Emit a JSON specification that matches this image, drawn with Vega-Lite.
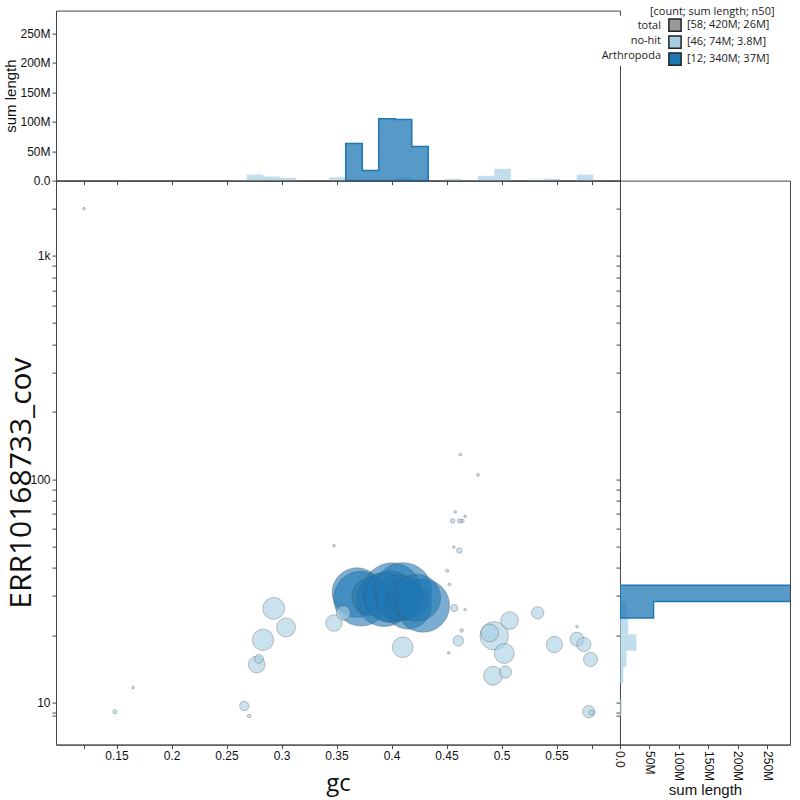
{
  "$schema": "https://vega.github.io/schema/vega-lite/v6.json",
  "background": "white",
  "padding": {"left": 2, "top": 5.6, "right": 0, "bottom": 0},
  "config": {
    "view": {"stroke": "#444", "strokeWidth": 1},
    "axis": {
      "grid": false, "domainColor": "#444", "tickColor": "#444", "tickSize": 4,
      "labelFont": "Liberation Sans", "labelFontSize": 12, "labelColor": "#111",
      "labelPadding": 2, "labelOverlap": false, "labelFlush": false,
      "titleFont": "Open Sans", "titleFontWeight": "normal", "titleColor": "#111"
    }
  },
  "datasets": {
    "points": [
      {"group": "Arthropoda", "gc": 0.3686, "cov": 31.06, "len": 28000000},
      {"group": "Arthropoda", "gc": 0.3723, "cov": 29.19, "len": 34000000},
      {"group": "Arthropoda", "gc": 0.3814, "cov": 29.80, "len": 16600000},
      {"group": "Arthropoda", "gc": 0.4005, "cov": 31.06, "len": 40000000},
      {"group": "Arthropoda", "gc": 0.3932, "cov": 28.90, "len": 33000000},
      {"group": "Arthropoda", "gc": 0.3986, "cov": 29.80, "len": 30000000},
      {"group": "Arthropoda", "gc": 0.4105, "cov": 31.38, "len": 38000000},
      {"group": "Arthropoda", "gc": 0.4150, "cov": 27.16, "len": 25000000},
      {"group": "Arthropoda", "gc": 0.4068, "cov": 29.49, "len": 24000000},
      {"group": "Arthropoda", "gc": 0.4123, "cov": 29.80, "len": 15000000},
      {"group": "Arthropoda", "gc": 0.4286, "cov": 27.16, "len": 32000000},
      {"group": "Arthropoda", "gc": 0.4232, "cov": 29.49, "len": 25000000},
      {"group": "no-hit", "gc": 0.1205, "cov": 1623, "len": 80000},
      {"group": "no-hit", "gc": 0.1486, "cov": 9.11, "len": 190000},
      {"group": "no-hit", "gc": 0.1650, "cov": 11.67, "len": 80000},
      {"group": "no-hit", "gc": 0.2662, "cov": 9.66, "len": 1000000},
      {"group": "no-hit", "gc": 0.2705, "cov": 8.72, "len": 140000},
      {"group": "no-hit", "gc": 0.2775, "cov": 14.8, "len": 3200000},
      {"group": "no-hit", "gc": 0.2795, "cov": 15.7, "len": 890000},
      {"group": "no-hit", "gc": 0.2832, "cov": 19.1, "len": 5110000},
      {"group": "no-hit", "gc": 0.2929, "cov": 26.4, "len": 5370000},
      {"group": "no-hit", "gc": 0.3041, "cov": 21.7, "len": 4060000},
      {"group": "no-hit", "gc": 0.3477, "cov": 50.4, "len": 80000},
      {"group": "no-hit", "gc": 0.3477, "cov": 22.7, "len": 3070000},
      {"group": "no-hit", "gc": 0.3562, "cov": 25.2, "len": 2270000},
      {"group": "no-hit", "gc": 0.4102, "cov": 17.7, "len": 4860000},
      {"group": "no-hit", "gc": 0.4627, "cov": 128.7, "len": 80000},
      {"group": "no-hit", "gc": 0.4786, "cov": 104.4, "len": 100000},
      {"group": "no-hit", "gc": 0.4579, "cov": 71.3, "len": 80000},
      {"group": "no-hit", "gc": 0.4556, "cov": 65.0, "len": 220000},
      {"group": "no-hit", "gc": 0.4620, "cov": 65.0, "len": 220000},
      {"group": "no-hit", "gc": 0.4645, "cov": 65.0, "len": 140000},
      {"group": "no-hit", "gc": 0.4668, "cov": 68.2, "len": 80000},
      {"group": "no-hit", "gc": 0.4566, "cov": 49.6, "len": 80000},
      {"group": "no-hit", "gc": 0.4616, "cov": 47.9, "len": 320000},
      {"group": "no-hit", "gc": 0.4507, "cov": 38.9, "len": 100000},
      {"group": "no-hit", "gc": 0.4527, "cov": 33.8, "len": 100000},
      {"group": "no-hit", "gc": 0.4570, "cov": 26.5, "len": 570000},
      {"group": "no-hit", "gc": 0.4668, "cov": 26.1, "len": 80000},
      {"group": "no-hit", "gc": 0.4638, "cov": 21.0, "len": 140000},
      {"group": "no-hit", "gc": 0.4607, "cov": 18.9, "len": 1280000},
      {"group": "no-hit", "gc": 0.4520, "cov": 16.7, "len": 80000},
      {"group": "no-hit", "gc": 0.4933, "cov": 19.9, "len": 9090000},
      {"group": "no-hit", "gc": 0.4893, "cov": 20.5, "len": 3550000},
      {"group": "no-hit", "gc": 0.5073, "cov": 23.3, "len": 3550000},
      {"group": "no-hit", "gc": 0.5025, "cov": 16.6, "len": 4530000},
      {"group": "no-hit", "gc": 0.4923, "cov": 13.2, "len": 4060000},
      {"group": "no-hit", "gc": 0.5035, "cov": 13.7, "len": 1740000},
      {"group": "no-hit", "gc": 0.5329, "cov": 25.2, "len": 1740000},
      {"group": "no-hit", "gc": 0.5480, "cov": 18.2, "len": 3000000},
      {"group": "no-hit", "gc": 0.5686, "cov": 21.9, "len": 80000},
      {"group": "no-hit", "gc": 0.5686, "cov": 19.2, "len": 2270000},
      {"group": "no-hit", "gc": 0.5748, "cov": 18.2, "len": 2270000},
      {"group": "no-hit", "gc": 0.5809, "cov": 15.6, "len": 2270000},
      {"group": "no-hit", "gc": 0.5794, "cov": 9.11, "len": 1740000},
      {"group": "no-hit", "gc": 0.5818, "cov": 9.02, "len": 320000}
    ],
    "gc_nohit": [
      {"group": "no-hit", "gc0": 0.1184, "gc1": 0.1334, "len": 80000},
      {"group": "no-hit", "gc0": 0.1484, "gc1": 0.1634, "len": 190000},
      {"group": "no-hit", "gc0": 0.1634, "gc1": 0.1784, "len": 80000},
      {"group": "no-hit", "gc0": 0.2534, "gc1": 0.2684, "len": 1000000},
      {"group": "no-hit", "gc0": 0.2684, "gc1": 0.2834, "len": 10000000},
      {"group": "no-hit", "gc0": 0.2834, "gc1": 0.2984, "len": 6800000},
      {"group": "no-hit", "gc0": 0.2984, "gc1": 0.3134, "len": 5000000},
      {"group": "no-hit", "gc0": 0.3434, "gc1": 0.3584, "len": 5600000},
      {"group": "no-hit", "gc0": 0.4034, "gc1": 0.4184, "len": 5500000},
      {"group": "no-hit", "gc0": 0.4484, "gc1": 0.4634, "len": 3000000},
      {"group": "no-hit", "gc0": 0.4634, "gc1": 0.4784, "len": 400000},
      {"group": "no-hit", "gc0": 0.4784, "gc1": 0.4934, "len": 8000000},
      {"group": "no-hit", "gc0": 0.4934, "gc1": 0.5084, "len": 20000000},
      {"group": "no-hit", "gc0": 0.5234, "gc1": 0.5384, "len": 1500000},
      {"group": "no-hit", "gc0": 0.5384, "gc1": 0.5534, "len": 3000000},
      {"group": "no-hit", "gc0": 0.5684, "gc1": 0.5834, "len": 10000000}
    ],
    "gc_arth": [
      {"group": "Arthropoda", "gc0": 0.3584, "gc1": 0.3734, "len": 63000000},
      {"group": "Arthropoda", "gc0": 0.3734, "gc1": 0.3884, "len": 17000000},
      {"group": "Arthropoda", "gc0": 0.3884, "gc1": 0.4034, "len": 105000000},
      {"group": "Arthropoda", "gc0": 0.4034, "gc1": 0.4184, "len": 104000000},
      {"group": "Arthropoda", "gc0": 0.4184, "gc1": 0.4334, "len": 58000000}
    ],
    "cov_nohit": [
      {"group": "no-hit", "cov0": 8.69, "cov1": 10.29, "len": 3000000},
      {"group": "no-hit", "cov0": 10.29, "cov1": 12.18, "len": 80000},
      {"group": "no-hit", "cov0": 12.18, "cov1": 14.42, "len": 5600000},
      {"group": "no-hit", "cov0": 14.42, "cov1": 17.07, "len": 11000000},
      {"group": "no-hit", "cov0": 17.07, "cov1": 20.21, "len": 28000000},
      {"group": "no-hit", "cov0": 20.21, "cov1": 23.92, "len": 14000000},
      {"group": "no-hit", "cov0": 23.92, "cov1": 28.32, "len": 11000000},
      {"group": "no-hit", "cov0": 33.53, "cov1": 39.70, "len": 200000},
      {"group": "no-hit", "cov0": 46.99, "cov1": 55.63, "len": 480000},
      {"group": "no-hit", "cov0": 55.63, "cov1": 65.86, "len": 580000},
      {"group": "no-hit", "cov0": 65.86, "cov1": 77.97, "len": 160000},
      {"group": "no-hit", "cov0": 92.30, "cov1": 109.3, "len": 100000},
      {"group": "no-hit", "cov0": 109.3, "cov1": 129.3, "len": 80000},
      {"group": "no-hit", "cov0": 1374, "cov1": 1627, "len": 80000}
    ],
    "cov_arth": [
      {"group": "Arthropoda", "cov0": 23.92, "cov1": 28.32, "len": 57000000},
      {"group": "Arthropoda", "cov0": 28.32, "cov1": 33.53, "len": 290000000}
    ]
  },
  "bounds": "flush",
  "spacing": 0,
  "resolve": {"scale": {"color": "independent"}, "legend": {"color": "independent"}},
  "vconcat": [
    {
      "width": 564,
      "height": 170,
      "encoding": {
        "y": {
          "field": "len", "type": "quantitative", "stack": null,
          "scale": {"domain": [0, 289000000], "nice": false},
          "axis": {
            "title": "sum length", "titleFont": "Liberation Sans", "titleFontSize": 15,
            "titleBaseline": "middle", "titleX": -46, "labelOverlap": false,
            "values": [0, 50000000, 100000000, 150000000, 200000000, 250000000],
            "labelExpr": "datum.value == 0 ? '0.0' : format(datum.value / 1000000, '.0f') + 'M'"
          }
        }
      },
      "layer": [
        {
          "data": {"name": "gc_nohit"},
          "mark": {"type": "rect", "fillOpacity": 0.7},
          "encoding": {
            "x": {
              "field": "gc0", "type": "quantitative",
              "scale": {"domain": [0.095, 0.6077], "nice": false, "zero": false},
              "axis": {"title": null, "labels": false, "values": [0.1205, 0.15, 0.2, 0.25, 0.3, 0.35, 0.4, 0.45, 0.5, 0.55, 0.5818]}
            },
            "x2": {"field": "gc1"},
            "y2": {"datum": 0},
            "color": {
              "field": "group", "type": "nominal",
              "scale": {"domain": ["total", "no-hit", "Arthropoda"], "range": ["#999999", "#a6cee3", "#1f78b4"]},
              "legend": {
                "orient": "none", "legendX": 541, "legendY": 5.1, "title": null, "direction": "vertical",
                "symbolType": "square", "symbolSize": 150, "symbolOpacity": 0, "symbolStrokeWidth": 1.5, "symbolOffset": 68,
                "labelAlign": "right", "labelOffset": -21, "labelFont": "Open Sans", "labelFontSize": 11, "labelColor": "#222",
                "rowPadding": 1, "padding": 3, "fillColor": "white"
              }
            }
          }
        },
        {
          "data": {"name": "gc_arth"},
          "transform": [{"fold": ["gc0", "gc1"], "as": ["edge", "gc"]}],
          "mark": {"type": "area", "fill": "#1f78b4", "fillOpacity": 0.75, "stroke": "#1f78b4", "strokeWidth": 1.5},
          "encoding": {
            "x": {
              "field": "gc", "type": "quantitative",
              "axis": {"title": null, "labels": false, "values": [0.1205, 0.15, 0.2, 0.25, 0.3, 0.35, 0.4, 0.45, 0.5, 0.55, 0.5818]}
            },
            "order": {"value": null}
          }
        }
      ]
    },
    {
      "bounds": "flush",
      "spacing": 0,
      "resolve": {"scale": {"color": "independent"}, "legend": {"color": "independent"}},
      "hconcat": [
        {
          "width": 564,
          "height": 564,
          "data": {"name": "points"},
          "mark": {"type": "circle", "opacity": 1, "fillOpacity": 0.6, "stroke": "#4d4d4d", "strokeWidth": 0.6, "strokeOpacity": 0.55},
          "encoding": {
            "x": {
              "field": "gc", "type": "quantitative",
              "scale": {"domain": [0.095, 0.6077], "nice": false, "zero": false},
              "axis": {
                "title": "gc", "titleFontSize": 24, "titlePadding": 10, "labelOverlap": false,
                "values": [0.1205, 0.15, 0.2, 0.25, 0.3, 0.35, 0.4, 0.45, 0.5, 0.55, 0.5818],
                "labelExpr": "datum.value < 0.13 || datum.value > 0.58 ? '' : format(datum.value, '.2~f')"
              }
            },
            "y": {
              "field": "cov", "type": "quantitative",
              "scale": {"type": "log", "domain": [6.49, 2166], "nice": false},
              "axis": {
                "title": "ERR10168733_cov", "titleFontSize": 30, "titleBaseline": "middle", "titleX": -35, "titleY": 302,
                "labelOverlap": false,
                "values": [8.72, 9, 10, 20, 30, 40, 50, 60, 70, 80, 90, 100, 200, 300, 400, 500, 600, 700, 800, 900, 1000, 1623],
                "labelExpr": "datum.value == 10 ? '10' : datum.value == 100 ? '100' : datum.value == 1000 ? '1k' : ''"
              }
            },
            "size": {"field": "len", "type": "quantitative", "scale": {"domain": [0, 100000000], "range": [0, 8850]}, "legend": null},
            "color": {
              "field": "group", "type": "nominal",
              "scale": {"domain": ["total", "no-hit", "Arthropoda"], "range": ["#999999", "#a6cee3", "#1f78b4"]},
              "legend": {
                "orient": "none", "legendX": 594, "legendY": -174.4,
                "title": "[count; sum length; n50]", "titleAnchor": "start", "titleFont": "Open Sans", "titleFontSize": 11,
                "titleFontWeight": "normal", "titleColor": "#222", "titlePadding": 1,
                "symbolType": "square", "symbolSize": 150, "symbolStrokeColor": "#222", "symbolStrokeWidth": 1.5,
                "symbolOpacity": 1, "symbolOffset": 18,
                "labelFont": "Open Sans", "labelFontSize": 11, "labelColor": "#222", "labelOffset": 5,
                "rowPadding": -5, "padding": 0,
                "labelExpr": "datum.label == 'total' ? '[58; 420M; 26M]' : datum.label == 'no-hit' ? '[46; 74M; 3.8M]' : '[12; 340M; 37M]'"
              }
            }
          }
        },
        {
          "width": 170,
          "height": 564,
          "encoding": {
            "x": {
              "field": "len", "type": "quantitative", "stack": null,
              "scale": {"domain": [0, 289000000], "nice": false},
              "axis": {
                "title": "sum length", "titleFont": "Liberation Sans", "titleFontSize": 15, "titlePadding": 2,
                "labelOverlap": false, "labelAngle": 90,
                "values": [0, 50000000, 100000000, 150000000, 200000000, 250000000],
                "labelExpr": "datum.value == 0 ? '0.0' : format(datum.value / 1000000, '.0f') + 'M'"
              }
            }
          },
          "layer": [
            {
              "data": {"name": "cov_nohit"},
              "mark": {"type": "rect", "fill": "#a6cee3", "fillOpacity": 0.7},
              "encoding": {
                "y": {
                  "field": "cov0", "type": "quantitative",
                  "scale": {"type": "log", "domain": [6.49, 2166], "nice": false},
                  "axis": {"title": null, "labels": false, "values": [8.72, 9, 10, 20, 30, 40, 50, 60, 70, 80, 90, 100, 200, 300, 400, 500, 600, 700, 800, 900, 1000, 1623]}
                },
                "y2": {"field": "cov1"},
                "x2": {"datum": 0}
              }
            },
            {
              "data": {"name": "cov_arth"},
              "transform": [{"fold": ["cov0", "cov1"], "as": ["edge", "cov"]}],
              "mark": {"type": "area", "orient": "horizontal", "fill": "#1f78b4", "fillOpacity": 0.75, "stroke": "#1f78b4", "strokeWidth": 1.5, "clip": true},
              "encoding": {
                "y": {
                  "field": "cov", "type": "quantitative",
                  "axis": {"title": null, "labels": false, "values": [8.72, 9, 10, 20, 30, 40, 50, 60, 70, 80, 90, 100, 200, 300, 400, 500, 600, 700, 800, 900, 1000, 1623]}
                },
                "order": {"value": null}
              }
            }
          ]
        }
      ]
    }
  ]
}
